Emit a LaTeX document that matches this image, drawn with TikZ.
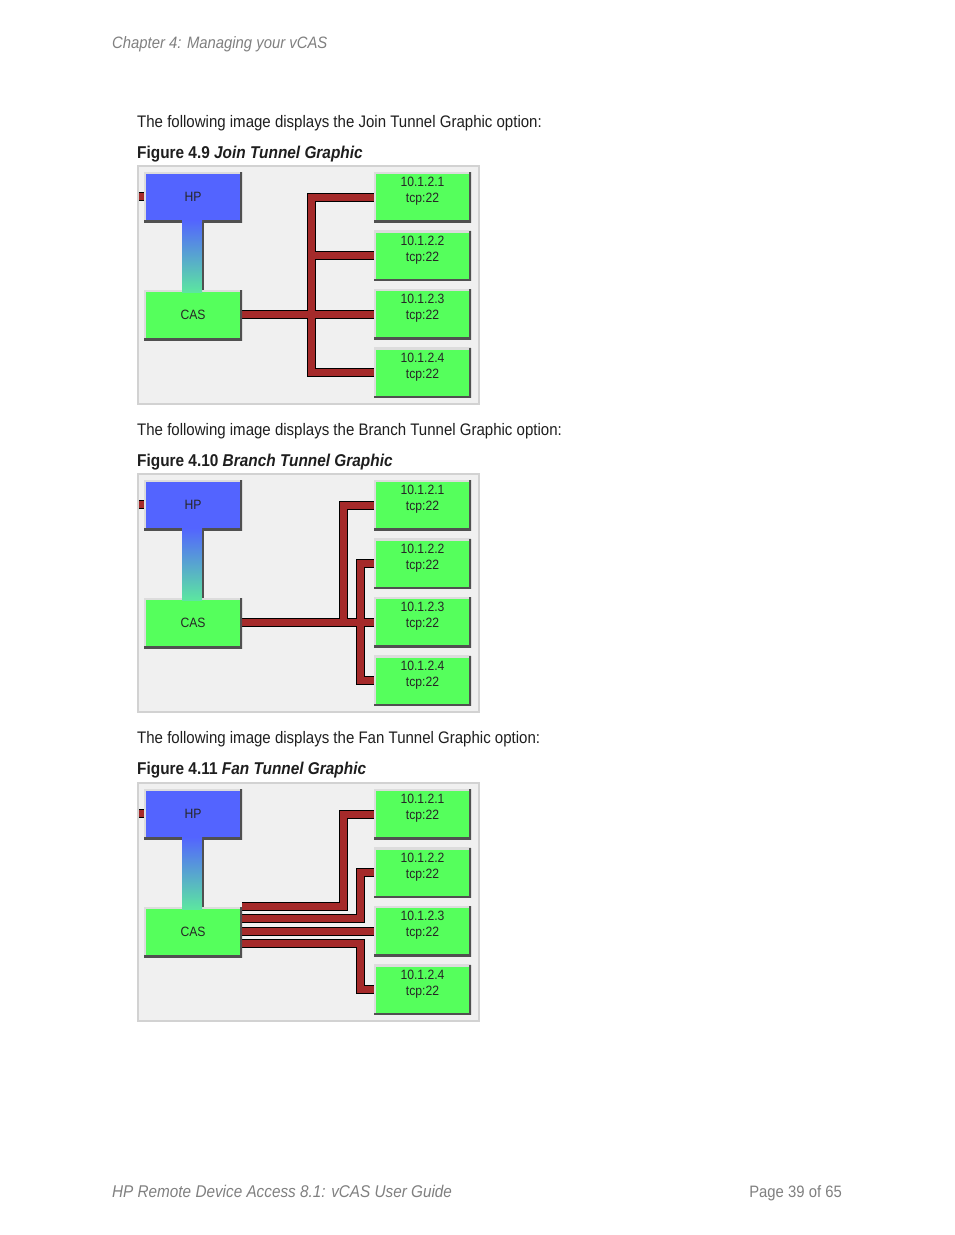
\documentclass[tikz,border=0pt]{standalone}
\usepackage{fontspec}
\setmainfont[FakeStretch=0.9]{Liberation Sans}
\newfontfamily\diagfont[FakeStretch=0.9]{Liberation Sans}

\pgfdeclarelayer{bg}
\pgfsetlayers{bg,main}

\definecolor{hpblue}{HTML}{5364FF}
\definecolor{boxgreen}{HTML}{55FF5C}
\definecolor{stemgreen}{HTML}{5CE6A0}
\definecolor{pipered}{HTML}{A52A2A}
\definecolor{framebg}{HTML}{F0F0F0}
\definecolor{frameline}{HTML}{D2D2D2}
\definecolor{bevellight}{HTML}{DCDCDC}
\definecolor{beveldark}{HTML}{505050}
\definecolor{pagegray}{HTML}{808080}
\definecolor{bodyblack}{HTML}{1E1E1E}

\tikzset{
  bevel/.style={path picture={
    \draw[bevellight, line width=4pt] (path picture bounding box.south west) -- (path picture bounding box.north west) -- (path picture bounding box.north east);
    \draw[beveldark, line width=4pt] (path picture bounding box.north east) -- (path picture bounding box.south east) -- (path picture bounding box.south west);}},
  unitbox/.style={minimum width=98pt, minimum height=50pt, inner sep=0pt, outer sep=0pt, bevel, text=black!85, font=\diagfont\fontsize{13.5}{16}\selectfont},
  hostbox/.style={minimum width=97pt, minimum height=50pt, inner sep=0pt, outer sep=0pt, fill=boxgreen, bevel},
  hosttext/.style={inner sep=0pt, align=center, text=black!85, font=\diagfont\fontsize{13.5}{16}\selectfont},
  pipe/.style={draw=pipered, line width=7pt, preaction={draw=black, line width=9pt}},
  figframe/.style={fill=framebg, draw=frameline, line width=2pt},
  bodytext/.style={anchor=base west, inner sep=0pt, text=bodyblack, font=\fontsize{16.7}{20}\selectfont},
  captext/.style={anchor=base west, inner sep=0pt, text=bodyblack, font=\fontsize{17.1}{20}\selectfont\bfseries},
  pagetext/.style={inner sep=0pt, text=pagegray, font=\fontsize{16.5}{20}\selectfont}
}

\begin{document}
\begin{tikzpicture}[x=1pt, y=-1pt]
  % Page area
  \begin{pgfonlayer}{bg}
    \fill[white] (0,0) rectangle (954,1235);
  \end{pgfonlayer}
  \useasboundingbox (0,0) rectangle (954,1235);

  % Running header
  \node[pagetext, anchor=base west] (header) at (112,48) {\itshape Chapter 4: Managing your vCAS};

  % Figure 4.9
  \node[bodytext] (intro1) at (137,127) {The following image displays the Join Tunnel Graphic option:};
  \node[captext] (cap1) at (137,158) {Figure 4.9 \itshape Join Tunnel Graphic};
  \begin{scope}[shift={(0,165)}]
    \node[unitbox, fill=hpblue] (hp1) at (193,32) {HP};
    \node[unitbox, fill=boxgreen] (cas1) at (193,150) {CAS};
    \foreach \k in {1,...,4} {
      \node[hostbox] (t1\k) at (422.5,{32+58.5*(\k-1)}) {};
      \node[hosttext] (l1\k) at ([yshift=-19.5pt]t1\k.north) {10.1.2.\k\\tcp:22};
    }
    % Stem from HP down to CAS
    \shade[top color=hpblue, bottom color=stemgreen] ([xshift=-11pt,yshift=2pt]hp1.south) rectangle ([xshift=9pt,yshift=-2pt]cas1.north);
    \draw[beveldark, line width=2pt] ([xshift=10pt]hp1.south) -- ([xshift=10pt]cas1.north);
    \coordinate (s1) at (139,31);
    \coordinate (j1) at (311.5,0);
    \begin{pgfonlayer}{bg}
      \draw[figframe] (138,1) rectangle (479,239);
      % Join: one trunk for all tunnels
      \draw[pipe] (s1) -- (s1 -| hp1.west)
        (t11.west) -- (j1 |- t11.west) -- (j1 |- t14.west) -- (t14.west)
        (t12.west) -- (j1 |- t12.west)
        (cas1.east |- t13.west) -- (t13.west);
    \end{pgfonlayer}
  \end{scope}

  % Figure 4.10
  \node[bodytext] (intro2) at (137,435) {The following image displays the Branch Tunnel Graphic option:};
  \node[captext] (cap2) at (137,466) {Figure 4.10 \itshape Branch Tunnel Graphic};
  \begin{scope}[shift={(0,473)}]
    \node[unitbox, fill=hpblue] (hp2) at (193,32) {HP};
    \node[unitbox, fill=boxgreen] (cas2) at (193,150) {CAS};
    \foreach \k in {1,...,4} {
      \node[hostbox] (t2\k) at (422.5,{32+58.5*(\k-1)}) {};
      \node[hosttext] (l2\k) at ([yshift=-19.5pt]t2\k.north) {10.1.2.\k\\tcp:22};
    }
    % Stem from HP down to CAS
    \shade[top color=hpblue, bottom color=stemgreen] ([xshift=-11pt,yshift=2pt]hp2.south) rectangle ([xshift=9pt,yshift=-2pt]cas2.north);
    \draw[beveldark, line width=2pt] ([xshift=10pt]hp2.south) -- ([xshift=10pt]cas2.north);
    \coordinate (s2) at (139,31);
    \coordinate (j2a) at (343.5,0);
    \coordinate (j2b) at (360.5,0);
    \begin{pgfonlayer}{bg}
      \draw[figframe] (138,1) rectangle (479,239);
      % Branch: two trunks off the main line
      \draw[pipe] (s2) -- (s2 -| hp2.west)
        (cas2.east |- t23.west) -- (t23.west)
        (t21.west) -- (j2a |- t21.west) -- (j2a |- t23.west)
        (t22.west) -- (j2b |- t22.west) -- (j2b |- t24.west) -- (t24.west);
    \end{pgfonlayer}
  \end{scope}

  % Figure 4.11
  \node[bodytext] (intro3) at (137,743) {The following image displays the Fan Tunnel Graphic option:};
  \node[captext] (cap3) at (137,774) {Figure 4.11 \itshape Fan Tunnel Graphic};
  \begin{scope}[shift={(0,782)}]
    \node[unitbox, fill=hpblue] (hp3) at (193,32) {HP};
    \node[unitbox, fill=boxgreen] (cas3) at (193,150) {CAS};
    \foreach \k in {1,...,4} {
      \node[hostbox] (t3\k) at (422.5,{32+58.5*(\k-1)}) {};
      \node[hosttext] (l3\k) at ([yshift=-19.5pt]t3\k.north) {10.1.2.\k\\tcp:22};
    }
    % Stem from HP down to CAS
    \shade[top color=hpblue, bottom color=stemgreen] ([xshift=-11pt,yshift=2pt]hp3.south) rectangle ([xshift=9pt,yshift=-2pt]cas3.north);
    \draw[beveldark, line width=2pt] ([xshift=10pt]hp3.south) -- ([xshift=10pt]cas3.north);
    \coordinate (s3) at (139,31);
    \coordinate (j3a) at (343.5,0);
    \coordinate (j3b) at (360.5,0);
    \coordinate (f3) at (cas3.east |- t33.west);
    \coordinate (p1) at ([yshift=24.5pt]f3);
    \coordinate (p2) at ([yshift=12.3pt]f3);
    \coordinate (p4) at ([yshift=-12.3pt]f3);
    \begin{pgfonlayer}{bg}
      \draw[figframe] (138,1) rectangle (479,239);
      % Fan: a separate tunnel per host
      \draw[pipe] (s3) -- (s3 -| hp3.west);
      \draw[pipe] (p1) -- (p1 -| j3a) -- (j3a |- t31.west) -- (t31.west);
      \draw[pipe] (p2) -- (p2 -| j3b) -- (j3b |- t32.west) -- (t32.west);
      \draw[pipe] (f3) -- (t33.west);
      \draw[pipe] (p4) -- (p4 -| j3b) -- (j3b |- t34.west) -- (t34.west);
    \end{pgfonlayer}
  \end{scope}

  % Running footer
  \node[pagetext, anchor=base west, font=\fontsize{17}{20}\selectfont] (footleft) at (112,1197) {\itshape HP Remote Device Access 8.1: vCAS User Guide};
  \node[pagetext, anchor=base east] (footright) at (842,1197) {Page 39 of 65};
\end{tikzpicture}
\end{document}
